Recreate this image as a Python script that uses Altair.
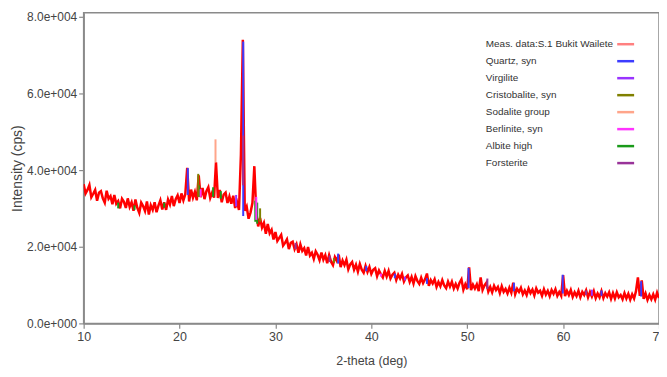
import altair as alt
import pandas as pd

# ---- measured pattern (kcps), 0.2 deg steps -------------------------------
start_2theta = 10.0
step_2theta = 0.2
meas_10_20 = [36.3, 33.9, 34.8, 36.1, 32.9, 33.8, 34.8, 32.0, 34.1, 34.5,
              32.6, 31.5, 34.6, 32.5, 33.2, 31.1, 33.5, 31.2, 31.9, 30.0,
              32.5, 31.7, 30.1, 32.6, 30.4, 31.6, 29.4, 32.3, 30.1, 28.8,
              31.5, 30.6, 29.3, 31.8, 28.4, 30.8, 29.6, 31.6, 29.0, 30.7,
              32.1, 29.7, 31.6, 29.6, 32.3, 31.0, 33.2, 30.6, 32.4, 33.4]
meas_20_30 = [31.4, 33.9, 32.1, 33.7, 40.6, 31.8, 34.9, 32.8, 34.3, 32.1,
              38.6, 32.9, 35.3, 32.4, 34.5, 35.5, 32.7, 34.1, 32.8, 42.0,
              32.7, 34.8, 31.6, 33.6, 34.1, 31.4, 33.1, 31.2, 33.3, 30.1,
              31.6, 29.6, 44.0, 74.0, 29.4, 30.5, 27.3, 28.9, 31.4, 41.0,
              29.0, 25.3, 27.5, 25.0, 26.2, 23.4, 25.9, 23.5, 24.4, 21.9]
meas_30_40 = [23.8, 21.5, 22.3, 23.1, 20.3, 21.0, 21.9, 19.4, 21.0, 21.3,
              19.4, 20.6, 18.4, 20.6, 18.9, 19.6, 17.7, 19.9, 17.7, 18.4,
              16.8, 18.8, 17.9, 16.5, 18.5, 16.6, 17.8, 15.7, 17.8, 16.1,
              15.2, 17.3, 16.3, 17.9, 14.7, 16.4, 15.2, 16.6, 14.1, 15.4,
              16.0, 14.0, 15.3, 13.5, 15.5, 14.0, 13.2, 15.0, 13.4, 14.7]
meas_40_50 = [12.9, 14.0, 14.4, 12.3, 13.8, 12.8, 12.0, 13.7, 12.2, 13.7,
              11.7, 12.7, 13.2, 11.3, 12.7, 11.7, 12.9, 10.9, 12.0, 12.5,
              10.8, 12.1, 10.4, 12.3, 11.1, 10.3, 11.9, 10.5, 11.5, 13.0,
              9.8, 11.3, 10.4, 11.5, 9.5, 10.8, 9.7, 11.3, 9.9, 9.2,
              10.9, 9.6, 10.9, 9.1, 10.3, 9.1, 10.6, 11.5, 8.8, 10.2]
meas_50_60 = [8.9, 14.6, 8.7, 10.1, 9.1, 10.2, 8.4, 12.0, 8.7, 9.9,
              10.6, 8.3, 9.5, 8.1, 9.8, 8.7, 9.5, 7.9, 9.7, 8.2,
              9.0, 7.8, 9.3, 8.0, 10.6, 7.6, 9.0, 8.2, 9.3, 7.6,
              8.6, 7.4, 9.1, 7.9, 8.8, 7.3, 9.1, 8.0, 8.5, 7.2,
              8.9, 7.5, 8.5, 7.1, 8.7, 7.7, 8.9, 7.2, 8.2, 7.2]
meas_60_70 = [12.6, 7.1, 8.5, 7.4, 8.7, 6.9, 8.1, 7.1, 8.5, 6.8,
              8.2, 7.4, 8.6, 6.8, 8.2, 7.0, 8.4, 6.6, 7.8, 6.8,
              8.4, 6.6, 7.9, 7.0, 8.1, 6.4, 7.9, 6.5, 8.1, 6.8,
              7.4, 6.3, 7.9, 6.5, 7.7, 6.2, 7.6, 6.5, 8.4, 12.0,
              7.2, 11.2, 6.4, 7.8, 6.1, 7.4, 6.3, 7.6, 6.2, 8.0,
              6.6]

# ---- reference phase peaks: position (deg), top and base (cps) -----------
quartz_pos = [20.86, 26.64, 36.54, 39.47, 42.45, 45.8, 50.14, 54.87, 59.96, 64.0, 68.14]
quartz_top = [40500, 73500, 18200, 15000, 13000, 11800, 14500, 10600, 12700, 8600, 11000]
quartz_base = [33500, 28000, 15600, 13600, 11800, 10300, 9200, 8400, 7800, 7200, 7000]

virgilite_pos = [25.9, 43.5, 63.0]
virgilite_top = [33500, 12200, 8800]
virgilite_base = [30500, 11200, 7200]

cristobalite_pos = [21.95, 28.4, 36.1]
cristobalite_top = [39000, 30000, 17000]
cristobalite_base = [33000, 26500, 15800]

sodalite_pos = [23.75]
sodalite_top = [48000]
sodalite_base = [42000]

berlinite_pos = [22.2, 28.0, 41.0]
berlinite_top = [35000, 33000, 13000]
berlinite_base = [33000, 27000, 12200]

albite_pos = [13.6, 15.3, 18.4, 22.05, 23.5, 24.3, 27.9, 28.1]
albite_top = [31500, 30800, 31500, 36000, 35500, 34500, 32000, 31500]
albite_base = [30000, 29600, 30200, 33000, 33000, 32500, 26500, 26000]

forsterite_pos = [26.62, 32.1, 35.65, 52.1, 62.4]
forsterite_top = [49000, 21000, 17700, 11700, 8600]
forsterite_base = [36000, 19400, 16000, 9000, 7400]

legend_names = ["Meas. data:S.1 Bukit Wailete", "Quartz, syn", "Virgilite",
                "Cristobalite, syn", "Sodalite group", "Berlinite, syn",
                "Albite high", "Forsterite"]
legend_colors = ["#ff8080", "#3c3cff", "#9933ff", "#808000", "#ffa58a",
                 "#ff33ff", "#1a9a1a", "#993399"]

y_ticks = [0, 20000, 40000, 60000, 80000]
x_ticks = [10, 20, 30, 40, 50, 60, 70]

# ---- tables --------------------------------------------------------------
meas_all = meas_10_20 + meas_20_30 + meas_30_40 + meas_40_50 + meas_50_60 + meas_60_70
meas_df = pd.DataFrame({
    "tt": [round(start_2theta + step_2theta * i, 2) for i in range(len(meas_all))],
    "cps": [v * 1000 for v in meas_all],
})

phase_sets = [
    ("Sodalite group", sodalite_pos, sodalite_top, sodalite_base),
    ("Albite high", albite_pos, albite_top, albite_base),
    ("Cristobalite, syn", cristobalite_pos, cristobalite_top, cristobalite_base),
    ("Berlinite, syn", berlinite_pos, berlinite_top, berlinite_base),
    ("Virgilite", virgilite_pos, virgilite_top, virgilite_base),
    ("Quartz, syn", quartz_pos, quartz_top, quartz_base),
    ("Forsterite", forsterite_pos, forsterite_top, forsterite_base),
]
rows = []
for name, pos, top, base in phase_sets:
    for p, t, b in zip(pos, top, base):
        rows.append({"phase": name, "tt": p, "top": t, "base": b})
peaks_df = pd.DataFrame(rows)

legend_df = pd.DataFrame({"phase": legend_names})

FONT = "Liberation Sans, Arial, sans-serif"

color_scale = alt.Scale(domain=legend_names, range=legend_colors)
x_scale = alt.Scale(domain=[10, 70], nice=False, zero=False)
y_scale = alt.Scale(domain=[0, 81000], nice=False)

x_axis = alt.Axis(values=x_ticks, title="2-theta (deg)", grid=False, tickSize=5,
                  labelFlush=False, labelFontSize=12.5, titleFontSize=12.5, titlePadding=12)
y_axis = alt.Axis(values=y_ticks, title="Intensity (cps)", grid=False, tickSize=5,
                  labelFlush=False, labelFontSize=12, titleFontSize=14,
                  titleX=-66, titleY=156, titleAngle=270, titleAlign="center",
                  titleBaseline="middle",
                  labelExpr="datum.value == 0 ? '0.0e+000' : format(datum.value / 10000, '.1f') + 'e+004'")

meas_line = alt.Chart(meas_df).mark_line(color="#ff0000", strokeWidth=2.5, clip=True).encode(
    x=alt.X("tt:Q", scale=x_scale, axis=x_axis),
    y=alt.Y("cps:Q", scale=y_scale, axis=y_axis),
)

peak_rules = alt.Chart(peaks_df).mark_rule(strokeWidth=2).encode(
    x=alt.X("tt:Q", scale=x_scale),
    y=alt.Y("top:Q", scale=y_scale),
    y2="base:Q",
    color=alt.Color("phase:N", scale=color_scale, legend=None),
)

leg_y = alt.Y("phase:N", scale=alt.Scale(type="point", domain=legend_names, range=[23, 159.5]), axis=None)
legend_text = alt.Chart(legend_df).mark_text(
    align="left", baseline="middle", font=FONT, fontSize=10, color="#333333"
).encode(x=alt.value(404), y=leg_y, text="phase:N")
legend_sym = alt.Chart(legend_df).mark_rule(strokeWidth=2.5).encode(
    x=alt.value(536), x2=alt.value(553), y=leg_y,
    color=alt.Color("phase:N", scale=color_scale, legend=None),
)

main = alt.layer(meas_line, peak_rules)
legend = alt.layer(legend_text, legend_sym)

chart = alt.layer(main, legend).resolve_scale(y="independent").properties(
    width=578, height=312,
    autosize=alt.AutoSizeParams(type="none"),
    padding={"left": 76, "top": 4, "right": 0, "bottom": 50},
).configure_view(stroke="#8a8a8a", strokeWidth=1.5).configure_axis(
    labelFont=FONT, titleFont=FONT, labelColor="#444444", titleColor="#444444",
    titleFontWeight="normal", domainColor="#8a8a8a", tickColor="#8a8a8a",
    domainWidth=1.5, tickWidth=1.2,
)

chart.save("out.html", embed_options={"renderer": "svg", "actions": False})
